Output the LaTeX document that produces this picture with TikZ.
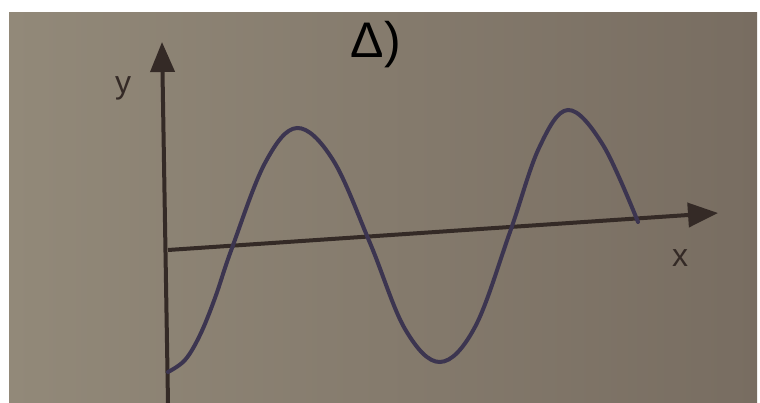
\documentclass[tikz,border=0pt]{standalone}
\usepackage{fontspec}
\setmainfont{Liberation Sans}
\usetikzlibrary{arrows.meta}
\definecolor{photoL}{HTML}{928979}
\definecolor{photoR}{HTML}{786D61}
\definecolor{ink}{HTML}{342A26}
\definecolor{waveink}{HTML}{3C3550}
\tikzset{
  axisline/.style={draw=ink, line width=4pt, -{Triangle[length=30pt,width=24pt]}},
  waveline/.style={draw=waveink, line width=4pt, line cap=round},
  axlabel/.style={text=ink, font=\fontsize{32}{32}\selectfont, inner sep=0pt},
}
\begin{document}
\begin{tikzpicture}[x=1pt,y=-1pt]
\useasboundingbox (0,0) rectangle (760,403);
\fill[white] (0,0) rectangle (760,403);
\shade[left color=photoL, right color=photoR] (9,13) rectangle (757,403);
% axes
\coordinate (yb) at (168,403);
\coordinate (yt) at (162,42);
\coordinate (xl) at (168,250);
\coordinate (xr) at (718,213);
\draw[axisline] (yb) -- (yt);
\draw[axisline] (xl) -- (xr);
% wave
\draw[waveline] plot[smooth, tension=0.6] coordinates {
 (168,372) (185,360) (200,335) (215,298) (232,248) (265,163) (297,128) (333,160)
 (370,243) (405,329) (440,362) (475,327) (510,232) (539,148) (568,110)
 (603,145) (638,222)};
% labels
\node[axlabel] (ylab) at (123,88) {y};
\node[axlabel] (xlab) at (680,258) {x};
\node[text=black, font=\fontsize{50}{50}\selectfont, inner sep=0pt] (title) at (376,45) {Δ)};
\end{tikzpicture}
\end{document}
